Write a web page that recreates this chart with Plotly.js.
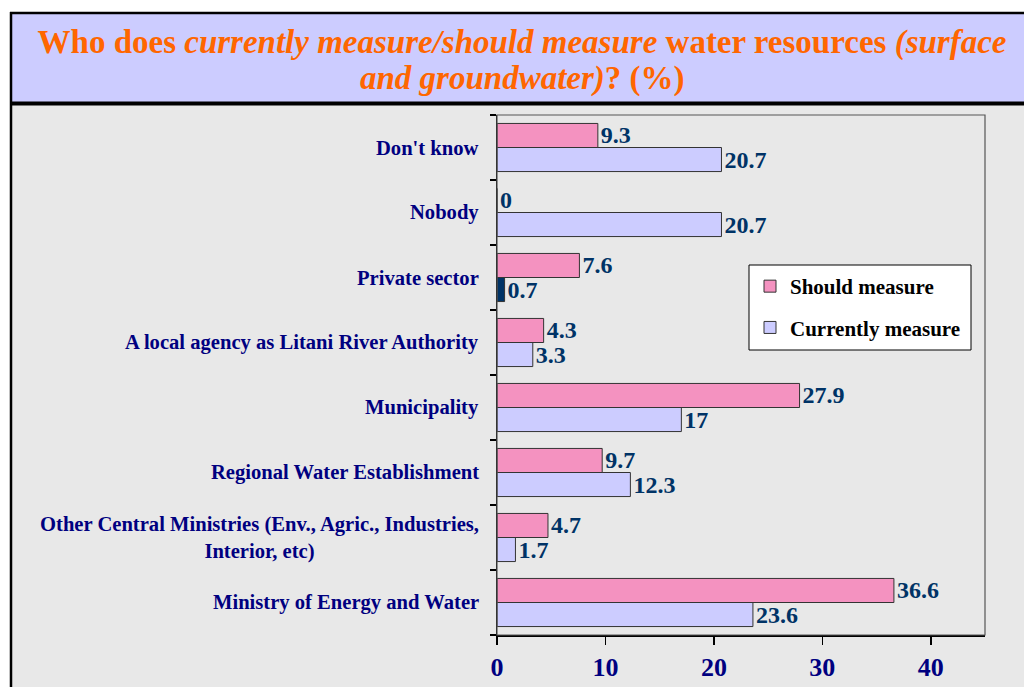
<!DOCTYPE html>
<html>
<head>
<meta charset="utf-8">
<script src="https://cdn.plot.ly/plotly-3.0.1.min.js"></script>
<style>html,body{margin:0;padding:0;background:#fff;}#chart{width:1024px;height:687px;}</style>
</head>
<body>
<div id="chart"></div>
<script>
// ---- data (bottom to top) ----
const categories = [
  "Ministry of Energy and Water",
  "Other Central Ministries (Env., Agric., Industries,<br>Interior, etc)",
  "Regional Water Establishment",
  "Municipality",
  "A local agency as Litani River Authority",
  "Private sector",
  "Nobody",
  "Don't know"
];
const shouldMeasure    = [36.6, 4.7, 9.7, 27.9, 4.3, 7.6, 0, 9.3];
const currentlyMeasure = [23.6, 1.7, 12.3, 17, 3.3, 0.7, 20.7, 20.7];
const xTickVals = [0, 10, 20, 30, 40];
const highlightedCategory = "Private sector";
const titleLine1 = "Who does <i>currently measure/should measure</i> water resources <i>(surface</i>";
const titleLine2 = "<i>and groundwater)</i>? (%)";

// ---- layout geometry ----
const W = 1024, H = 687;
const M = {l: 497, r: 39, t: 115, b: 52};
const PW = W - M.l - M.r, PH = H - M.t - M.b;
const X = px => (px - M.l) / PW;
const Y = py => (H - M.b - py) / PH;

const serif = "Liberation Serif, Times New Roman, serif";
const pink = "#f492c0", lav = "#ccccff", navy = "#003366", orange = "#ff6600";

const curColors = categories.map(c => c === highlightedCategory ? navy : lav);
const labelFont = {family: serif, size: 24, color: navy, weight: "bold"};

const traces = [
  {
    type: "bar", orientation: "h", name: "Currently measure",
    y: categories, x: currentlyMeasure, legendgroup: "c", legendrank: 2,
    marker: {color: curColors, line: {color: "#333333", width: 1}},
    text: currentlyMeasure.map(String), textposition: "outside",
    textfont: labelFont, constraintext: "none", cliponaxis: false, hoverinfo: "x+name"
  },
  {
    type: "bar", orientation: "h", name: "Should measure",
    y: categories, x: shouldMeasure, legendgroup: "s", legendrank: 1,
    marker: {color: pink, line: {color: "#333333", width: 1}},
    text: shouldMeasure.map(String), textposition: "outside",
    textfont: labelFont, constraintext: "none", cliponaxis: false, hoverinfo: "x+name"
  }
];

const annotations = categories.map(c => ({
  xref: "paper", yref: "y", x: 0, y: c, xshift: -16,
  xanchor: "right", yanchor: "middle", align: "center", showarrow: false,
  text: c, font: {family: serif, size: 20.6, color: "#000080", weight: "bold"}
}));
annotations.push({
  xref: "paper", yref: "paper", x: X(522), y: Y(78), xanchor: "center", yanchor: "middle",
  showarrow: false, text: titleLine2,
  font: {family: serif, size: 33, color: orange, weight: "bold"}
});

const shapes = [
  {type: "rect", xref: "paper", yref: "paper", layer: "below",
   x0: X(0), x1: X(W), y0: Y(13), y1: Y(0), fillcolor: "#ffffff", line: {width: 0}},
  {type: "rect", xref: "paper", yref: "paper", layer: "below",
   x0: X(0), x1: X(10), y0: Y(H), y1: Y(0), fillcolor: "#ffffff", line: {width: 0}},
  {type: "rect", xref: "paper", yref: "paper", layer: "below",
   x0: X(11), x1: X(W), y0: Y(103), y1: Y(13), fillcolor: lav, line: {width: 0}},
  {type: "line", xref: "paper", yref: "paper", x0: X(10), x1: X(W), y0: Y(13), y1: Y(13),
   line: {color: "#000", width: 2.5}},
  {type: "line", xref: "paper", yref: "paper", x0: X(11), x1: X(11), y0: Y(12), y1: Y(H),
   line: {color: "#000", width: 2.5}},
  {type: "line", xref: "paper", yref: "paper", x0: X(10), x1: X(W), y0: Y(103.5), y1: Y(103.5),
   line: {color: "#000", width: 4}},
  {type: "rect", xref: "paper", yref: "paper", x0: 0, x1: 1, y0: 0, y1: 1,
   line: {color: "#555555", width: 1.2}},
  // legend box
  {type: "rect", xref: "paper", yref: "paper", layer: "above",
   x0: X(749), x1: X(971), y0: Y(350), y1: Y(265),
   fillcolor: "#ffffff", line: {color: "#000", width: 1}}
];

const layout = {
  width: W, height: H,
  margin: M,
  paper_bgcolor: "#e8e8e8",
  plot_bgcolor: "#e8e8e8",
  title: {
    text: titleLine1,
    font: {family: serif, size: 33, color: orange, weight: "bold"},
    x: 522 / W, xanchor: "center", xref: "container",
    y: 1 - 41 / H, yanchor: "middle", yref: "container"
  },
  barmode: "group", bargap: 0.26, bargroupgap: 0,
  xaxis: {
    range: [0, 45], tickvals: xTickVals, showgrid: false, zeroline: false,
    showline: true, linecolor: "#000", linewidth: 1.5,
    ticks: "outside", ticklen: 8, tickcolor: "#000", tickwidth: 1.5,
    tickfont: {family: serif, size: 26, color: "#000080", weight: "bold"},
    fixedrange: true
  },
  yaxis: {
    type: "category", showgrid: false, zeroline: false,
    showline: true, linecolor: "#000", linewidth: 1.5,
    ticks: "outside", tickson: "boundaries", ticklen: 6, tickcolor: "#000", tickwidth: 1.5,
    showticklabels: false, fixedrange: true
  },
  legend: {
    x: X(750), y: Y(266), xanchor: "left", yanchor: "top",
    bgcolor: "rgba(0,0,0,0)", borderwidth: 0,
    traceorder: "grouped", tracegroupgap: 11,
    font: {family: serif, size: 21, color: "#000", weight: "bold"},
    itemwidth: 30
  },
  annotations: annotations,
  shapes: shapes,
  showlegend: true
};

Plotly.newPlot("chart", traces, layout, {displayModeBar: false, staticPlot: true});
</script>
</body>
</html>
